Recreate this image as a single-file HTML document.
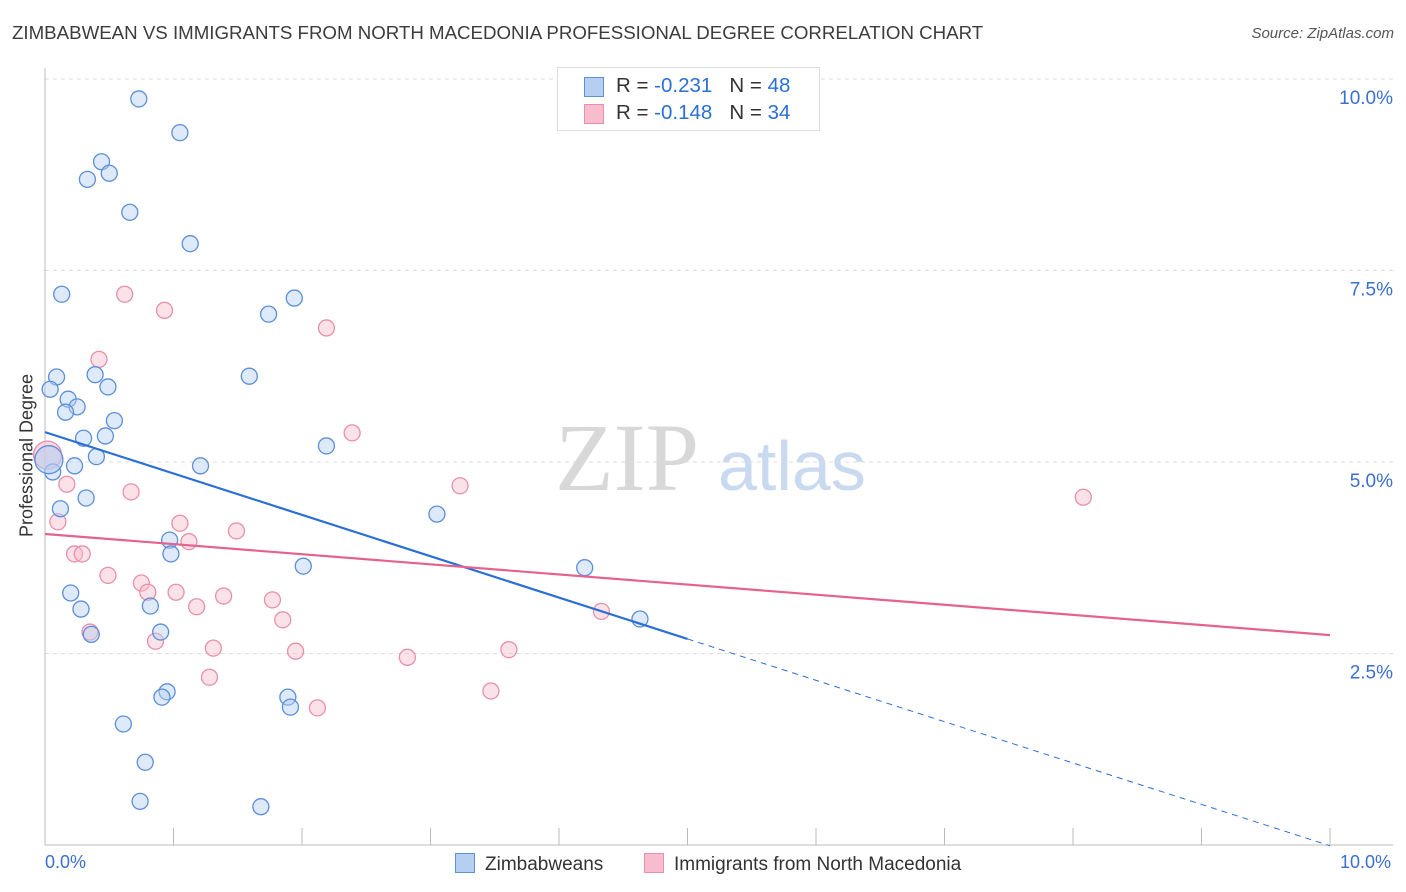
<!DOCTYPE html>
<html><head><meta charset="utf-8"><style>
body{margin:0;background:#fff;font-family:"Liberation Sans",sans-serif;}
#wrap{position:relative;width:1406px;height:892px;overflow:hidden;}
.t{position:absolute;white-space:nowrap;}
</style></head><body>
<div id="wrap">
<div class="t" style="left:12px;top:22px;font-size:18.7px;color:#3c3c3c;">ZIMBABWEAN VS IMMIGRANTS FROM NORTH MACEDONIA PROFESSIONAL DEGREE CORRELATION CHART</div>
<div class="t" style="right:12px;top:25px;font-size:15px;color:#555;font-style:italic;">Source: ZipAtlas.com</div>
<svg id="svg" width="1406" height="892" style="position:absolute;left:0;top:0"></svg>
</div>
<script>
const blueX=[0.73,1.05,0.44,0.33,0.50,0.66,1.13,0.13,1.94,1.74,1.59,0.09,0.39,0.04,0.49,0.18,0.25,0.16,0.54,0.30,0.47,2.19,0.40,0.23,1.21,0.06,0.03,0.32,0.12,3.05,0.97,0.98,2.01,4.20,0.20,0.82,0.28,4.63,0.90,0.36,0.95,0.91,1.89,1.91,0.61,0.78,0.74,1.68];
const blueY=[9.74,9.30,8.92,8.69,8.77,8.26,7.85,7.19,7.14,6.93,6.12,6.11,6.14,5.95,5.98,5.82,5.72,5.65,5.54,5.31,5.34,5.21,5.07,4.95,4.95,4.87,5.03,4.53,4.39,4.32,3.98,3.80,3.64,3.62,3.29,3.12,3.08,2.95,2.78,2.75,2.00,1.93,1.93,1.80,1.58,1.08,0.57,0.50];
const pinkX=[0.62,0.93,2.19,0.42,2.39,0.02,0.17,3.23,0.67,8.08,0.10,1.05,1.49,1.12,0.23,0.29,0.49,0.75,0.80,1.02,1.39,1.77,1.18,4.33,1.85,0.35,0.86,1.31,1.95,3.61,2.82,1.28,3.47,2.12];
const pinkY=[7.19,6.98,6.75,6.34,5.38,5.09,4.71,4.69,4.61,4.54,4.22,4.20,4.10,3.96,3.80,3.80,3.52,3.42,3.30,3.30,3.25,3.20,3.11,3.05,2.94,2.78,2.66,2.57,2.53,2.55,2.45,2.19,2.01,1.79];
const yTicks=[2.5,5.0,7.5,10.0];
const yTickLabels=["2.5%","5.0%","7.5%","10.0%"];
const blueTrend=[5.39,-0.54];
const pinkTrend=[4.06,-0.132];
const X0=45,X1=1330,Y0=845,PY=76.6;
const sx=v=>X0+(X1-X0)*v/10, sy=v=>Y0-PY*v;
const svg=document.getElementById('svg');
const NS='http://www.w3.org/2000/svg';
function mk(tag,a){const e=document.createElementNS(NS,tag);for(const k in a)e.setAttribute(k,a[k]);svg.appendChild(e);return e;}
let w=mk('text',{x:555,y:490,'font-size':96,'font-family':'Liberation Serif,serif',fill:'#d8d8d8'});w.textContent='ZIP';


w=mk('text',{x:718,y:490,'font-size':70,'font-family':'Liberation Sans,sans-serif',fill:'#c9d9ef'});w.textContent='atlas';


yTicks.forEach((t,i)=>{const g=mk('line',{x1:X0,x2:1393,y1:sy(t),y2:sy(t),stroke:'#dcdcdc','stroke-dasharray':'4,4'});


const l=mk('text',{x:1393,y:sy(t)+25,'text-anchor':'end','font-size':19,fill:'#3a6fd0','font-family':'Liberation Sans,sans-serif'});l.textContent=yTickLabels[i];

});
let a=mk('line',{x1:X0,x2:X0,y1:68,y2:Y0,stroke:'#bbb'});


a=mk('line',{x1:X0,x2:1393,y1:Y0,y2:Y0,stroke:'#bbb'});


for(let i=1;i<=10;i++){const tk=mk('line',{x1:sx(i),x2:sx(i),y1:828,y2:Y0,stroke:'#bbb'});

}
function dots(xs,ys,fill,stroke,name){xs.forEach((x,i)=>{const big=(x<0.05&&ys[i]>4.9&&ys[i]<5.2);const c=mk('circle',{cx:sx(x),cy:sy(ys[i]),r:big?14:8,fill:fill,'fill-opacity':big?0.6:0.45,stroke:stroke,'stroke-width':1.3});

});}
dots(pinkX,pinkY,'#f7bccd','#e890ab','point-north-macedonia');
dots(blueX,blueY,'#b5cff2','#5b8fd8','point-zimbabwean');
let ln=mk('line',{x1:sx(0),y1:sy(blueTrend[0]),x2:sx(5),y2:sy(blueTrend[0]+blueTrend[1]*5),stroke:'#2a6fd6','stroke-width':2.2});


ln=mk('line',{x1:sx(5),y1:sy(blueTrend[0]+blueTrend[1]*5),x2:sx(10),y2:sy(blueTrend[0]+blueTrend[1]*10),stroke:'#2a6fd6','stroke-width':1,'stroke-dasharray':'6,5'});


ln=mk('line',{x1:sx(0),y1:sy(pinkTrend[0]),x2:sx(10),y2:sy(pinkTrend[0]+pinkTrend[1]*10),stroke:'#e4628f','stroke-width':2.2});


</script>
<div class="t" style="left:-61px;top:445px;width:176px;text-align:center;font-size:18px;color:#333;transform:rotate(-90deg);">Professional Degree</div>
<div class="t" style="left:45px;top:852px;font-size:18px;color:#3a6fd0;">0.0%</div>
<div class="t" style="left:1340px;top:852px;font-size:18px;color:#3a6fd0;">10.0%</div>
<div style="position:absolute;left:557px;top:67px;width:261px;height:62px;border:1px solid #ddd;background:#fff;font-size:20.5px;color:#333;">
 <div style="position:absolute;left:26px;top:9px;width:18px;height:18px;background:#b5cff2;border:1px solid #5b8fd8;"></div>
 <div class="t" style="left:58px;top:6px;">R = <span style="color:#2a6fd6">-0.231</span>&nbsp;&nbsp;&nbsp;N = <span style="color:#2a6fd6">48</span></div>
 <div style="position:absolute;left:26px;top:36px;width:18px;height:18px;background:#f7bccd;border:1px solid #e890ab;"></div>
 <div class="t" style="left:58px;top:33px;">R = <span style="color:#2a6fd6">-0.148</span>&nbsp;&nbsp;&nbsp;N = <span style="color:#2a6fd6">34</span></div>
</div>
<div style="position:absolute;left:455px;top:853px;font-size:19px;color:#333;">
 <span style="display:inline-block;width:18px;height:18px;background:#b5cff2;border:1px solid #5b8fd8;vertical-align:-3px;margin-right:10px;"></span>Zimbabweans</div>
<div style="position:absolute;left:644px;top:853px;font-size:19px;color:#333;">
 <span style="display:inline-block;width:18px;height:18px;background:#f7bccd;border:1px solid #e890ab;vertical-align:-3px;margin-right:10px;"></span>Immigrants from North Macedonia</div>
</body></html>
